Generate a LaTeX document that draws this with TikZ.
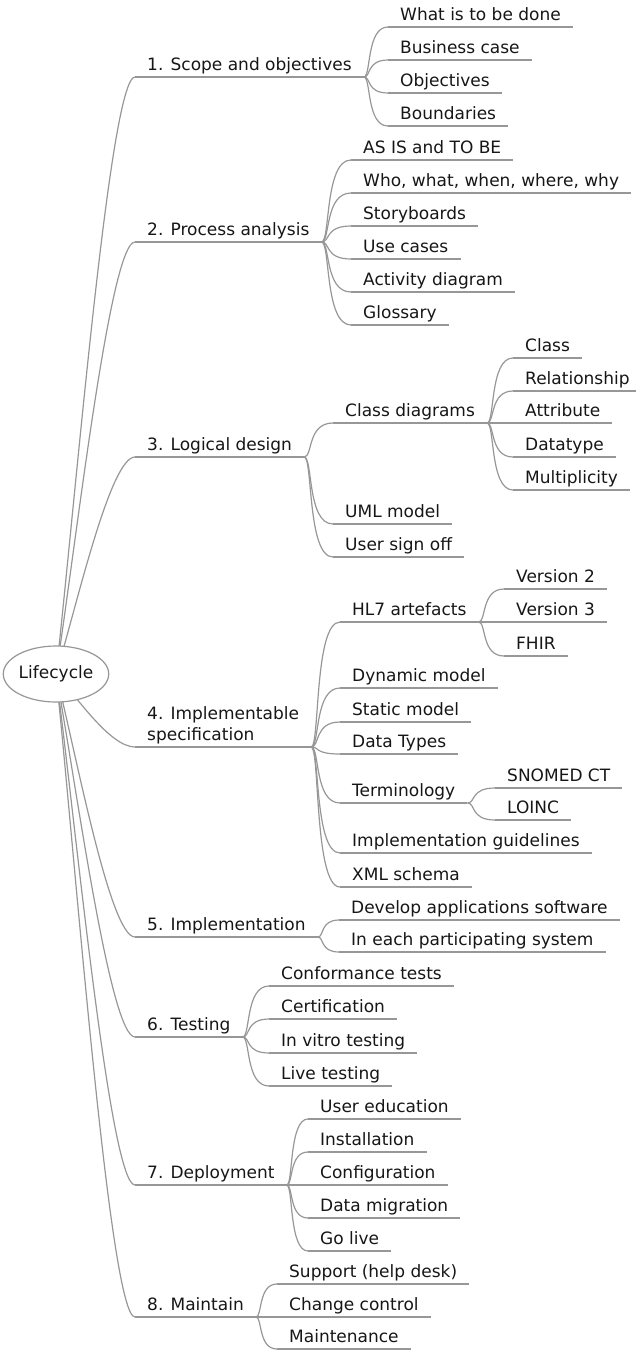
\documentclass[tikz,border=0pt]{standalone}
\usepackage{fontspec}
\setmainfont{DejaVu Sans}
\usetikzlibrary{calc,backgrounds,shapes.geometric}
\definecolor{linegray}{HTML}{979797}
\definecolor{inkblack}{HTML}{161616}
\newcommand\mmfont{\fontsize{17}{21}\selectfont}

\tikzset{
  conn/.style={draw=linegray, line width=1.2pt},
  topic/.style={anchor=south west, inner xsep=12pt, inner ysep=0pt,
    text depth=6pt, font=\mmfont, text=inkblack},
  % curve from a topic's underline end to a subtopic's underline start
  branch/.style={to path={let \p1=(\tikztostart), \p2=(\tikztotarget) in
    .. controls ({\x1+0.3*(\x2-\x1)},\y1) and ({\x1+0.1*(\x2-\x1)},\y2) .. (\tikztotarget)}},
  % curve from the central topic to a main topic
  rootbranch/.style={to path={let \p1=(\tikztostart), \p2=(\tikztotarget) in
    .. controls ({\x1+20pt},{\y1+0.3*(\y2-\y1)}) and ({\x2-25pt},\y2) .. (\tikztotarget)}},
}

\begin{document}
\begin{tikzpicture}[x=1pt, y=-1pt]
\useasboundingbox (0,0) rectangle (635,1350);

% central topic
\node[ellipse, draw=linegray, line width=1.2pt, fill=white, minimum width=97pt,
  minimum height=56pt, inner sep=0pt, font=\mmfont, text=inkblack] (root) at (56,674) {Lifecycle};

% main topics
\node[topic] (a1) at (135,77) {1. Scope and objectives};
\node[topic] (a2) at (135,242) {2. Process analysis};
\node[topic] (a3) at (135,457) {3. Logical design};
\node[topic, align=left] (a4) at (135,747) {4. Implementable\\specification};
\node[topic] (a5) at (135,937) {5. Implementation};
\node[topic] (a6) at (135,1037) {6. Testing};
\node[topic] (a7) at (135,1185) {7. Deployment};
\node[topic] (a8) at (135,1317) {8. Maintain};

% 1. Scope and objectives
\node[topic] (a1b1) at (388,27) {What is to be done};
\node[topic] (a1b2) at (388,60) {Business case};
\node[topic] (a1b3) at (388,93) {Objectives};
\node[topic] (a1b4) at (388,126) {Boundaries};

% 2. Process analysis
\node[topic] (a2b1) at (351,160) {AS IS and TO BE};
\node[topic] (a2b2) at (351,193) {Who, what, when, where, why};
\node[topic] (a2b3) at (351,226) {Storyboards};
\node[topic] (a2b4) at (351,259) {Use cases};
\node[topic] (a2b5) at (351,292) {Activity diagram};
\node[topic] (a2b6) at (351,325) {Glossary};

% 3. Logical design
\node[topic] (a3b1) at (333,423) {Class diagrams};
\node[topic] (a3b2) at (333,524) {UML model};
\node[topic] (a3b3) at (333,557) {User sign off};
\node[topic] (a3b1c1) at (513,358) {Class};
\node[topic] (a3b1c2) at (513,391) {Relationship};
\node[topic] (a3b1c3) at (513,423) {Attribute};
\node[topic] (a3b1c4) at (513,457) {Datatype};
\node[topic] (a3b1c5) at (513,490) {Multiplicity};

% 4. Implementable specification
\node[topic] (a4b1) at (340,622) {HL7 artefacts};
\node[topic] (a4b2) at (340,688) {Dynamic model};
\node[topic] (a4b3) at (340,722) {Static model};
\node[topic] (a4b4) at (340,754) {Data Types};
\node[topic] (a4b5) at (340,803) {Terminology};
\node[topic] (a4b6) at (340,853) {Implementation guidelines};
\node[topic] (a4b7) at (340,887) {XML schema};
\node[topic] (a4b1c1) at (504,589) {Version 2};
\node[topic] (a4b1c2) at (504,622) {Version 3};
\node[topic] (a4b1c3) at (504,656) {FHIR};
\node[topic] (a4b5c1) at (495,788) {SNOMED CT};
\node[topic] (a4b5c2) at (495,820) {LOINC};

% 5. Implementation
\node[topic] (a5b1) at (339,920) {Develop applications software};
\node[topic] (a5b2) at (339,952) {In each participating system};

% 6. Testing
\node[topic] (a6b1) at (269,986) {Conformance tests};
\node[topic] (a6b2) at (269,1019) {Certification};
\node[topic] (a6b3) at (269,1053) {In vitro testing};
\node[topic] (a6b4) at (269,1086) {Live testing};

% 7. Deployment
\node[topic] (a7b1) at (308,1119) {User education};
\node[topic] (a7b2) at (308,1152) {Installation};
\node[topic] (a7b3) at (308,1185) {Configuration};
\node[topic] (a7b4) at (308,1218) {Data migration};
\node[topic] (a7b5) at (308,1251) {Go live};

% 8. Maintain
\node[topic] (a8b1) at (277,1284) {Support (help desk)};
\node[topic] (a8b2) at (277,1317) {Change control};
\node[topic] (a8b3) at (277,1349) {Maintenance};

% underlines beneath every topic
\foreach \nd in {a1,a2,a3,a4,a5,a6,a7,a8,
  a1b1,a1b2,a1b3,a1b4,
  a2b1,a2b2,a2b3,a2b4,a2b5,a2b6,
  a3b1,a3b2,a3b3,a3b1c1,a3b1c2,a3b1c3,a3b1c4,a3b1c5,
  a4b1,a4b2,a4b3,a4b4,a4b5,a4b6,a4b7,a4b1c1,a4b1c2,a4b1c3,a4b5c1,a4b5c2,
  a5b1,a5b2,a6b1,a6b2,a6b3,a6b4,a7b1,a7b2,a7b3,a7b4,a7b5,a8b1,a8b2,a8b3}
  \draw[conn] (\nd.south west) -- (\nd.south east);

\begin{pgfonlayer}{background}
  % central topic to main topics
  \foreach \nd in {a1,a2,a3,a4,a5,a6,a7,a8}
    \draw[conn] (root.center) to[rootbranch] (\nd.south west);
  % main topics to subtopics
  \foreach \parentnode/\childnode in {a1/a1b1,a1/a1b2,a1/a1b3,a1/a1b4,
      a2/a2b1,a2/a2b2,a2/a2b3,a2/a2b4,a2/a2b5,a2/a2b6,
      a3/a3b1,a3/a3b2,a3/a3b3,
      a3b1/a3b1c1,a3b1/a3b1c2,a3b1/a3b1c3,a3b1/a3b1c4,a3b1/a3b1c5,
      a4/a4b1,a4/a4b2,a4/a4b3,a4/a4b4,a4/a4b5,a4/a4b6,a4/a4b7,
      a4b1/a4b1c1,a4b1/a4b1c2,a4b1/a4b1c3,a4b5/a4b5c1,a4b5/a4b5c2,
      a5/a5b1,a5/a5b2,
      a6/a6b1,a6/a6b2,a6/a6b3,a6/a6b4,
      a7/a7b1,a7/a7b2,a7/a7b3,a7/a7b4,a7/a7b5,
      a8/a8b1,a8/a8b2,a8/a8b3}
    \draw[conn] (\parentnode.south east) to[branch] (\childnode.south west);
\end{pgfonlayer}
\end{tikzpicture}
\end{document}
